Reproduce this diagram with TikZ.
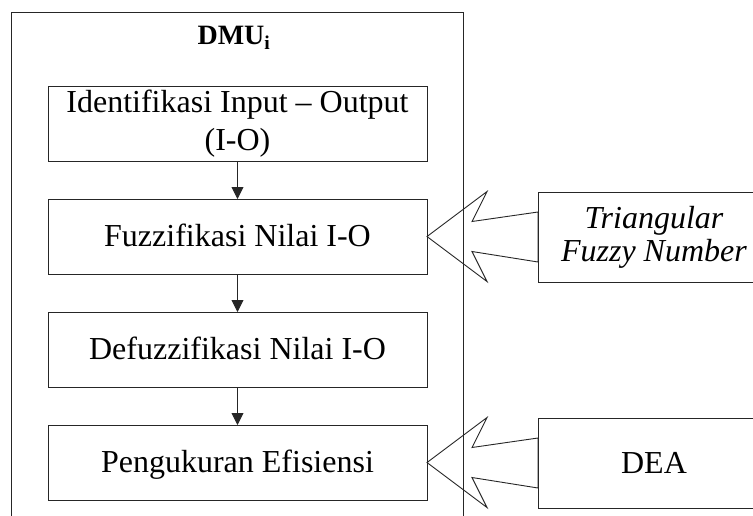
\documentclass[tikz,border=0pt]{standalone}
\usepackage{fontspec}
\setmainfont{Liberation Serif}
\usetikzlibrary{arrows.meta,calc}
\begin{document}
\begin{tikzpicture}[x=1pt,y=-1pt,
  line/.style={draw=black!85,line width=0.9pt},
  procbox/.style={line,minimum width=379pt,minimum height=75pt,inner sep=0pt,outer sep=0pt,
    font=\fontsize{32}{38}\selectfont},
  oneline/.style={procbox,text height=22pt,text depth=2pt},
  sidebox/.style={line,minimum width=232pt,minimum height=90pt,inner sep=0pt,outer sep=0pt,
    font=\fontsize{32}{33}\selectfont},
  flow/.style={line,-{Triangle[length=12pt,width=12pt]}},
  bigarrow/.style={line,line join=miter}]
\path[use as bounding box, clip] (0,0) rectangle (753,515);
% outer DMU container (open at the bottom, cut by the page)
\node[line,minimum width=452pt,minimum height=540pt,inner sep=0pt,outer sep=0pt,anchor=north west] (dmu) at (11,12) {};
\node[font=\fontsize{28}{30}\selectfont\bfseries,anchor=base,inner sep=0pt] (dmulabel) at (234,44) {DMU\textsubscript{i}};
% process boxes
\node[procbox,align=center] (b1) at (237.5,124) {Identifikasi Input -- Output\\(I-O)};
\node[oneline] (b2) at (237.5,236.5) {Fuzzifikasi Nilai I-O};
\node[oneline] (b3) at (237.5,349.5) {Defuzzifikasi Nilai I-O};
\node[oneline] (b4) at (237.5,462.5) {Pengukuran Efisiensi};
% side boxes
\node[sidebox,align=center] (tfn) at (654,237) {\itshape Triangular\\\itshape Fuzzy Number};
\node[sidebox,text height=22pt,text depth=2pt] (dea) at (654,463) {DEA};
% flow arrows
\draw[flow] (b1.south) -- (b2.north);
\draw[flow] (b2.south) -- (b3.north);
\draw[flow] (b3.south) -- (b4.north);
% block arrows
\draw[bigarrow] (b2.east) -- ++(60,-45) -- ++(-15,30) -- ($(tfn.west)+(0,-25)$)
  -- ($(tfn.west)+(0,25)$) -- ($(b2.east)+(45,15)$) -- ($(b2.east)+(60,45)$) -- cycle;
\draw[bigarrow] (b4.east) -- ++(60,-45) -- ++(-15,30) -- ($(dea.west)+(0,-25)$)
  -- ($(dea.west)+(0,25)$) -- ($(b4.east)+(45,15)$) -- ($(b4.east)+(60,45)$) -- cycle;
\end{tikzpicture}
\end{document}
